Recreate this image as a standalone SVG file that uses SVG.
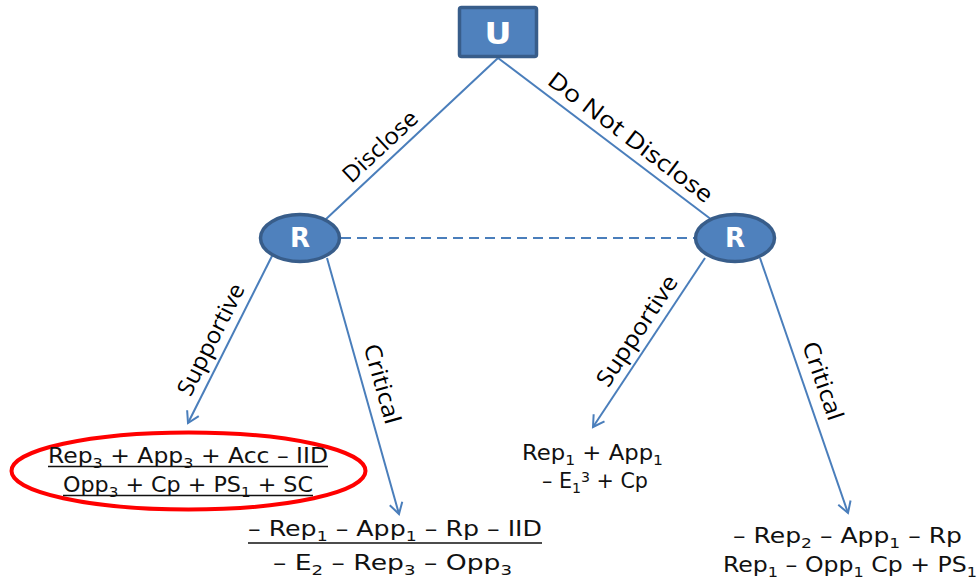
<svg xmlns="http://www.w3.org/2000/svg" width="977" height="582" viewBox="0 0 977 582">
  <defs>
    <marker id="arrow" markerUnits="userSpaceOnUse" markerWidth="16" markerHeight="16" viewBox="-13 -8 16 16" refX="0" refY="0" orient="auto">
      <path d="M-11,-6.5 L0,0 L-11,6.5" fill="none" stroke="#4A7EBB" stroke-width="2"/>
    </marker>
    <style>
      .edge { stroke: #4A7EBB; stroke-width: 2; fill: none; }
      .dashed { stroke-dasharray: 10 6; }
      .node { fill: #4F81BD; stroke: #385D8A; stroke-width: 3.5; }
      .nodetext { font-family: "DejaVu Sans", sans-serif; font-weight: bold; fill: #FFFFFF; text-anchor: middle; }
      .label { font-family: "Open Sans", "Liberation Sans", sans-serif; font-size: 23px; fill: #000000; text-anchor: middle; }
      .payoff { font-family: "DejaVu Sans", sans-serif; font-size: 20.5px; fill: #111111; text-anchor: middle; }
      .sub { font-size: 14px; }
      .uline { stroke: #111111; stroke-width: 1.6; }
      .highlight { fill: none; stroke: #FF0000; stroke-width: 4; }
    </style>
  </defs>

  <!-- connectors -->
  <g id="connectors">
    <line class="edge" x1="498" y1="58" x2="325" y2="220"/>
    <line class="edge" x1="498" y1="58" x2="712" y2="220"/>
    <line class="edge dashed" x1="341" y1="238" x2="695" y2="238"/>
    <line class="edge" x1="272.5" y1="255" x2="188" y2="423" marker-end="url(#arrow)"/>
    <line class="edge" x1="327" y1="258" x2="399" y2="514" marker-end="url(#arrow)"/>
    <line class="edge" x1="705" y1="258" x2="593" y2="427" marker-end="url(#arrow)"/>
    <line class="edge" x1="760" y1="258" x2="848" y2="513" marker-end="url(#arrow)"/>
  </g>

  <!-- edge labels -->
  <g id="labels">
    <text class="label" transform="translate(391,158) rotate(-43.1)" y="-8" textLength="94" lengthAdjust="spacingAndGlyphs">Disclose</text>
    <text class="label" transform="translate(621,150) rotate(37.1)" y="-8" textLength="200" lengthAdjust="spacingAndGlyphs">Do Not Disclose</text>
    <text class="label" transform="translate(226,347) rotate(-63.3)" y="-9" textLength="122" lengthAdjust="spacingAndGlyphs">Supportive</text>
    <text class="label" transform="translate(364,389) rotate(74.2)" y="-11" textLength="82" lengthAdjust="spacingAndGlyphs">Critical</text>
    <text class="label" transform="translate(651,340) rotate(-56.5)" y="-9" textLength="128" lengthAdjust="spacingAndGlyphs">Supportive</text>
    <text class="label" transform="translate(805,387) rotate(71)" y="-11" textLength="82" lengthAdjust="spacingAndGlyphs">Critical</text>
  </g>

  <!-- decision nodes -->
  <g id="node-U">
    <rect class="node" x="459.5" y="7.5" width="77" height="49" rx="2"/>
    <text class="nodetext" x="498" y="44" font-size="30" textLength="27" lengthAdjust="spacingAndGlyphs">U</text>
  </g>
  <g id="node-R-disclose">
    <ellipse class="node" cx="300" cy="238" rx="39.5" ry="23.5"/>
    <text class="nodetext" x="300" y="247" font-size="26">R</text>
  </g>
  <g id="node-R-nondisclose">
    <ellipse class="node" cx="735" cy="238" rx="39.5" ry="23.5"/>
    <text class="nodetext" x="735" y="247" font-size="26">R</text>
  </g>

  <!-- payoffs: disclose / supportive -->
  <g id="leaf-disclose-supportive">
    <ellipse class="highlight" cx="188.5" cy="471" rx="177" ry="38.5"/>
    <text class="payoff" x="188" y="463" textLength="280" lengthAdjust="spacingAndGlyphs">Rep<tspan class="sub" baseline-shift="-5">3</tspan> + App<tspan class="sub" baseline-shift="-5">3</tspan> + Acc – IID</text>
    <line class="uline" x1="48" y1="466.5" x2="328" y2="466.5"/>
    <text class="payoff" x="188" y="492" textLength="250" lengthAdjust="spacingAndGlyphs">Opp<tspan class="sub" baseline-shift="-5">3</tspan> + Cp + PS<tspan class="sub" baseline-shift="-5">1</tspan> + SC</text>
    <line class="uline" x1="63" y1="495.5" x2="313" y2="495.5"/>
  </g>

  <!-- payoffs: disclose / critical -->
  <g id="leaf-disclose-critical">
    <text class="payoff" x="395" y="536" textLength="294" lengthAdjust="spacingAndGlyphs">– Rep<tspan class="sub" baseline-shift="-5">1</tspan> – App<tspan class="sub" baseline-shift="-5">1</tspan> – Rp – IID</text>
    <line class="uline" x1="248" y1="543" x2="542" y2="543"/>
    <text class="payoff" x="392.5" y="570" textLength="239" lengthAdjust="spacingAndGlyphs">– E<tspan class="sub" baseline-shift="-5">2</tspan> – Rep<tspan class="sub" baseline-shift="-5">3</tspan> – Opp<tspan class="sub" baseline-shift="-5">3</tspan></text>
  </g>

  <!-- payoffs: do not disclose / supportive -->
  <g id="leaf-nondisclose-supportive">
    <text class="payoff" x="592.5" y="460" textLength="141" lengthAdjust="spacingAndGlyphs">Rep<tspan class="sub" baseline-shift="-5">1</tspan> + App<tspan class="sub" baseline-shift="-5">1</tspan></text>
    <text class="payoff" x="595" y="488" textLength="106" lengthAdjust="spacingAndGlyphs">– E<tspan class="sub" baseline-shift="-5">1</tspan><tspan class="sub" baseline-shift="6">3</tspan> + Cp</text>
  </g>

  <!-- payoffs: do not disclose / critical -->
  <g id="leaf-nondisclose-critical">
    <text class="payoff" x="847.5" y="543" textLength="229" lengthAdjust="spacingAndGlyphs">– Rep<tspan class="sub" baseline-shift="-5">2</tspan> – App<tspan class="sub" baseline-shift="-5">1</tspan> – Rp</text>
    <text class="payoff" x="850" y="572" textLength="254" lengthAdjust="spacingAndGlyphs">Rep<tspan class="sub" baseline-shift="-5">1</tspan> – Opp<tspan class="sub" baseline-shift="-5">1</tspan> Cp + PS<tspan class="sub" baseline-shift="-5">1</tspan></text>
  </g>
</svg>
